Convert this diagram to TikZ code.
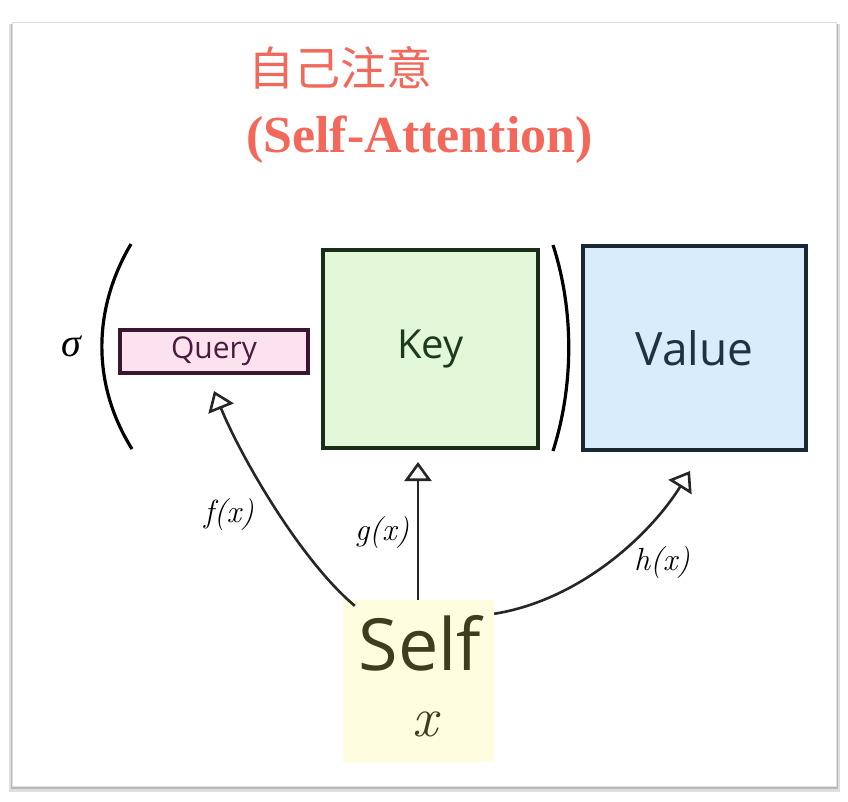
\documentclass[tikz,border=0pt]{standalone}
\usepackage{fontspec}
\newfontfamily\cjkfont{Noto Sans CJK SC}
\newfontfamily\titlefont{Liberation Serif}
\newfontfamily\handfont{Open Sans}
\usetikzlibrary{arrows.meta}

\definecolor{titlered}{HTML}{F2685A}
\definecolor{qfill}{HTML}{FCE1EE}
\definecolor{kfill}{HTML}{E2F8D8}
\definecolor{vfill}{HTML}{D8ECFB}
\definecolor{sfill}{HTML}{FEFDDF}
\definecolor{qtext}{HTML}{4A1C3C}
\definecolor{ktext}{HTML}{1E3A1E}
\definecolor{vtext}{HTML}{1E3242}
\definecolor{stext}{HTML}{3E3E1E}

\begin{document}
\begin{tikzpicture}[x=1pt, y=-1pt, inner sep=0pt,
		>={Triangle[open, length=19pt, width=27pt]},
		box/.style={line width=3.2pt},
		hand/.style={font={\handfont\fontsize{#1}{#1}\selectfont}},
		fn/.style={font={\fontsize{32}{32}\selectfont\itshape}},
		link/.style={->, line width=2.6pt, black!85}]
			\useasboundingbox (0,0) rectangle (848,802);
			
			% card
			\fill[gray!25] (9,24) rectangle (840,792);
			\fill[gray!55] (11,24) rectangle (838,789);
			\fill[white, draw=gray!25, line width=0.6pt] (12,22) rectangle (836,786);
			
			% title
			\node[anchor=west, text=titlered, font={\cjkfont\fontsize{46}{46}\selectfont}] (titlejp) at (248,68) {自己注意};
			\node[anchor=west, text=titlered, font={\titlefont\bfseries\fontsize{52}{52}\selectfont}] (titleen) at (246,140) {(Self-Attention)};
			
			% boxes
			\node[box, draw=qtext!80!black, fill=qfill, minimum width=188, minimum height=43, text=qtext, hand=30] (query) at (214,351.5) {Query};
			\node[box, draw=ktext!80!black, fill=kfill, minimum width=215, minimum height=198, text=ktext, hand=40] (key) at (430.5,349) {Key};
			\node[box, draw=vtext!80!black, fill=vfill, minimum width=223, minimum height=204, text=vtext, hand=46] (value) at (694.5,348) {Value};
			\node[fill=sfill, minimum width=151, minimum height=162] (self) at (418.5,681) {};
			\node[text=stext, hand=72] (selftxt) at (420,643) {Self};
			\node[text=stext, font={\fontsize{56}{56}\selectfont\itshape}] (xtxt) at (425,724) {x};
			
			% softmax
			\node[font={\titlefont\itshape\fontsize{40}{40}\selectfont}] (sigma) at (71,346) {σ};
			\draw[line width=3.2pt] (131,244) .. controls (92,310) and (92,385) .. (132,449);
			\draw[line width=3.2pt] (553,245) .. controls (574,310) and (574,385) .. (553,451);
			
			% maps
			\coordinate (ftip) at (214,391);
			\coordinate (gtip) at (418,462);
			\coordinate (htip) at (690,471);
			\draw[link] ([xshift=12pt, yshift=-6pt]self.north west) .. controls (300,560) and (240,455) .. (ftip);
			\draw[link] (self.north -| gtip) -- (gtip);
			\draw[link] ([yshift=-14pt]self.north east) .. controls (580,600) and (650,535) .. (htip);
			
			\node[fn] (flabel) at (229,515) {f(x)};
			\node[fn] (glabel) at (382,533) {g(x)};
			\node[fn] (hlabel) at (662,563) {h(x)};
		\end{tikzpicture}
\end{document}
